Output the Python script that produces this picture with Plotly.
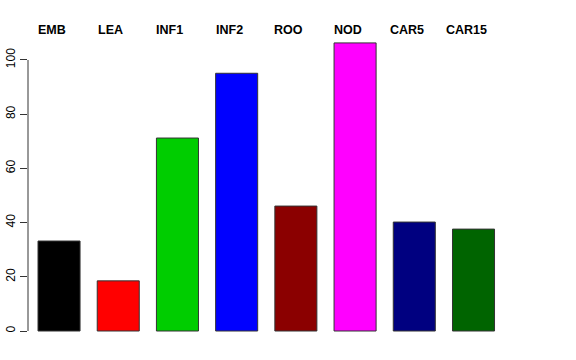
import plotly.graph_objects as go

categories = ["EMB", "LEA", "INF1", "INF2", "ROO", "NOD", "CAR5", "CAR15"]
values = [33.2, 18.5, 71.2, 95.1, 46.1, 106.3, 40.2, 37.6]
colors = ["#000000", "#FF0000", "#00CD00", "#0000FF", "#8B0000", "#FF00FF", "#000080", "#006400"]
yticks = [0, 20, 40, 60, 80, 100]

xpos = list(range(len(categories)))

fig = go.Figure()
fig.add_trace(go.Bar(
    x=xpos, y=values, width=0.71,
    marker=dict(color=colors, line=dict(color="#333333", width=1)),
    hoverinfo="skip",
))

for i, c in enumerate(categories):
    fig.add_annotation(x=i, y=1.008, xref="x", yref="paper", text="<b>%s</b>" % c,
                       showarrow=False, xanchor="center", yanchor="middle", xshift=-7.5,
                       font=dict(family="Liberation Sans, Arial, sans-serif", size=12.5, color="black"))

fig.add_shape(type="line", xref="paper", yref="y", x0=0, x1=0, y0=yticks[0], y1=yticks[-1],
              line=dict(color="#333333", width=1))

fig.update_layout(
    width=576, height=360,
    margin=dict(l=28, r=72, t=32, b=18, pad=0, autoexpand=False),
    paper_bgcolor="white", plot_bgcolor="white",
    showlegend=False,
    font=dict(family="Liberation Sans, Arial, sans-serif", color="black"),
    xaxis=dict(range=[-0.524, 7.515], showticklabels=False, showgrid=False, zeroline=False,
               showline=False, ticks="", automargin=False),
    yaxis=dict(range=[-4.06, 110.33], tickvals=yticks, ticktext=[str(v) for v in yticks],
               tickangle=-90, ticks="outside", ticklen=7, tickcolor="#333333", tickwidth=1,
               showgrid=False, zeroline=False, showline=False, automargin=False,
               tickfont=dict(size=12, color="black")),
)

fig.write_html("out.html", config={"displayModeBar": False, "staticPlot": True},
               post_script="document.body.style.margin='0';document.body.style.overflow='hidden';")
